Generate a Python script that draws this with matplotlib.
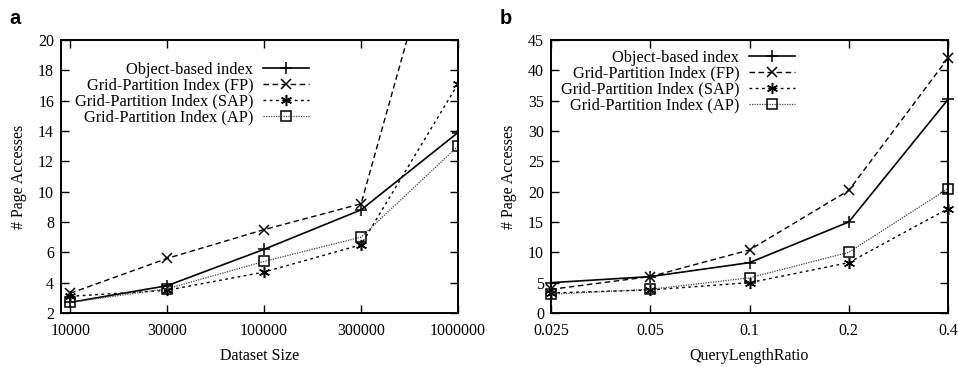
import matplotlib
matplotlib.use("Agg")
import matplotlib.pyplot as plt
import numpy as np

plt.rcParams['font.family'] = ['Liberation Serif', 'DejaVu Serif']

# ---- data ----
size_labels = ["10000", "30000", "100000", "300000", "1000000"]
a_object = [2.7, 3.8, 6.2, 8.8, 13.9]
a_fp = [3.3, 5.6, 7.5, 9.2, 32.0]
a_sap = [3.1, 3.5, 4.7, 6.5, 17.1]
a_ap = [2.7, 3.6, 5.4, 7.0, 13.0]

ratio_labels = ["0.025", "0.05", "0.1", "0.2", "0.4"]
b_object = [5.0, 6.0, 8.3, 15.0, 35.2]
b_fp = [3.9, 6.0, 10.4, 20.2, 42.0]
b_sap = [3.3, 3.8, 5.0, 8.3, 17.2]
b_ap = [3.1, 3.9, 5.8, 10.0, 20.5]

series_names = ["Object-based index", "Grid-Partition Index (FP)",
                "Grid-Partition Index (SAP)", "Grid-Partition Index (AP)"]

styles = [
    dict(color='black', linestyle='-', lw=1.2, marker='+', ms=8, mew=1.1),
    dict(color='black', linestyle=(0, (4, 2.5)), lw=1.0, marker='x', ms=6.5, mew=1.1),
    dict(color='black', linestyle=(0, (2, 2.5)), lw=1.0, marker=(6, 2, 0), ms=8, mew=1.1),
    dict(color='#444444', linestyle=(0, (1, 1)), lw=0.9, marker='s', ms=6.5, mew=1.1,
         mfc='none', mec='black'),
]

fig = plt.figure(figsize=(9.58, 3.67), dpi=100)
W, H = 958, 367
axa = fig.add_axes([61 / W, 1 - 313 / H, 397 / W, 273 / H])
axb = fig.add_axes([551 / W, 1 - 313 / H, 397 / W, 273 / H])


def setup(ax, xlabels, xl, ylim, yticks, xlabel, leg_anchor):
    ax.set_ylim(*ylim)
    ax.set_yticks(yticks)
    ax.set_xticks(range(len(xlabels)))
    ax.set_xticklabels(xlabels)
    ax.set_xlim(*xl)
    ax.tick_params(direction='in', length=6, width=1.0, top=True, right=True,
                   labelsize=11.5, pad=5)
    ax.tick_params(axis='x', pad=7)
    for s in ax.spines.values():
        s.set_linewidth(1.4)
    ax.set_xlabel(xlabel, fontsize=11.5, labelpad=7)
    ax.set_ylabel("# Page Accesses", fontsize=11.5, labelpad=8)
    leg = ax.legend(loc='upper right', bbox_to_anchor=leg_anchor, frameon=False,
                    markerfirst=False, fontsize=11.8, handlelength=2.8,
                    handletextpad=0.6, labelspacing=0.0, borderpad=0,
                    borderaxespad=0)
    try:
        for col in leg._legend_handle_box.get_children():
            col.align = 'right'
    except Exception:
        pass


x = np.arange(5)
for vals, name, st in zip([a_object, a_fp, a_sap, a_ap], series_names, styles):
    axa.plot(x, vals, label=name, clip_on=True, **st)
for vals, name, st in zip([b_object, b_fp, b_sap, b_ap], series_names, styles):
    axb.plot(x, vals, label=name, clip_on=False, **st)

setup(axa, size_labels, (-0.095, 4), (2, 20), np.arange(2, 21, 2), "Dataset Size",
      (0.625, 0.921))
setup(axb, ratio_labels, (0, 4), (0, 45), np.arange(0, 46, 5), "QueryLengthRatio",
      (0.615, 0.965))

fig.text(9 / W, 1 - 24 / H, "a", fontsize=14.5, fontweight='bold',
         family=['Liberation Sans', 'DejaVu Sans'])
fig.text(500 / W, 1 - 24 / H, "b", fontsize=14.5, fontweight='bold',
         family=['Liberation Sans', 'DejaVu Sans'])

fig.savefig("out.png", dpi=100)
